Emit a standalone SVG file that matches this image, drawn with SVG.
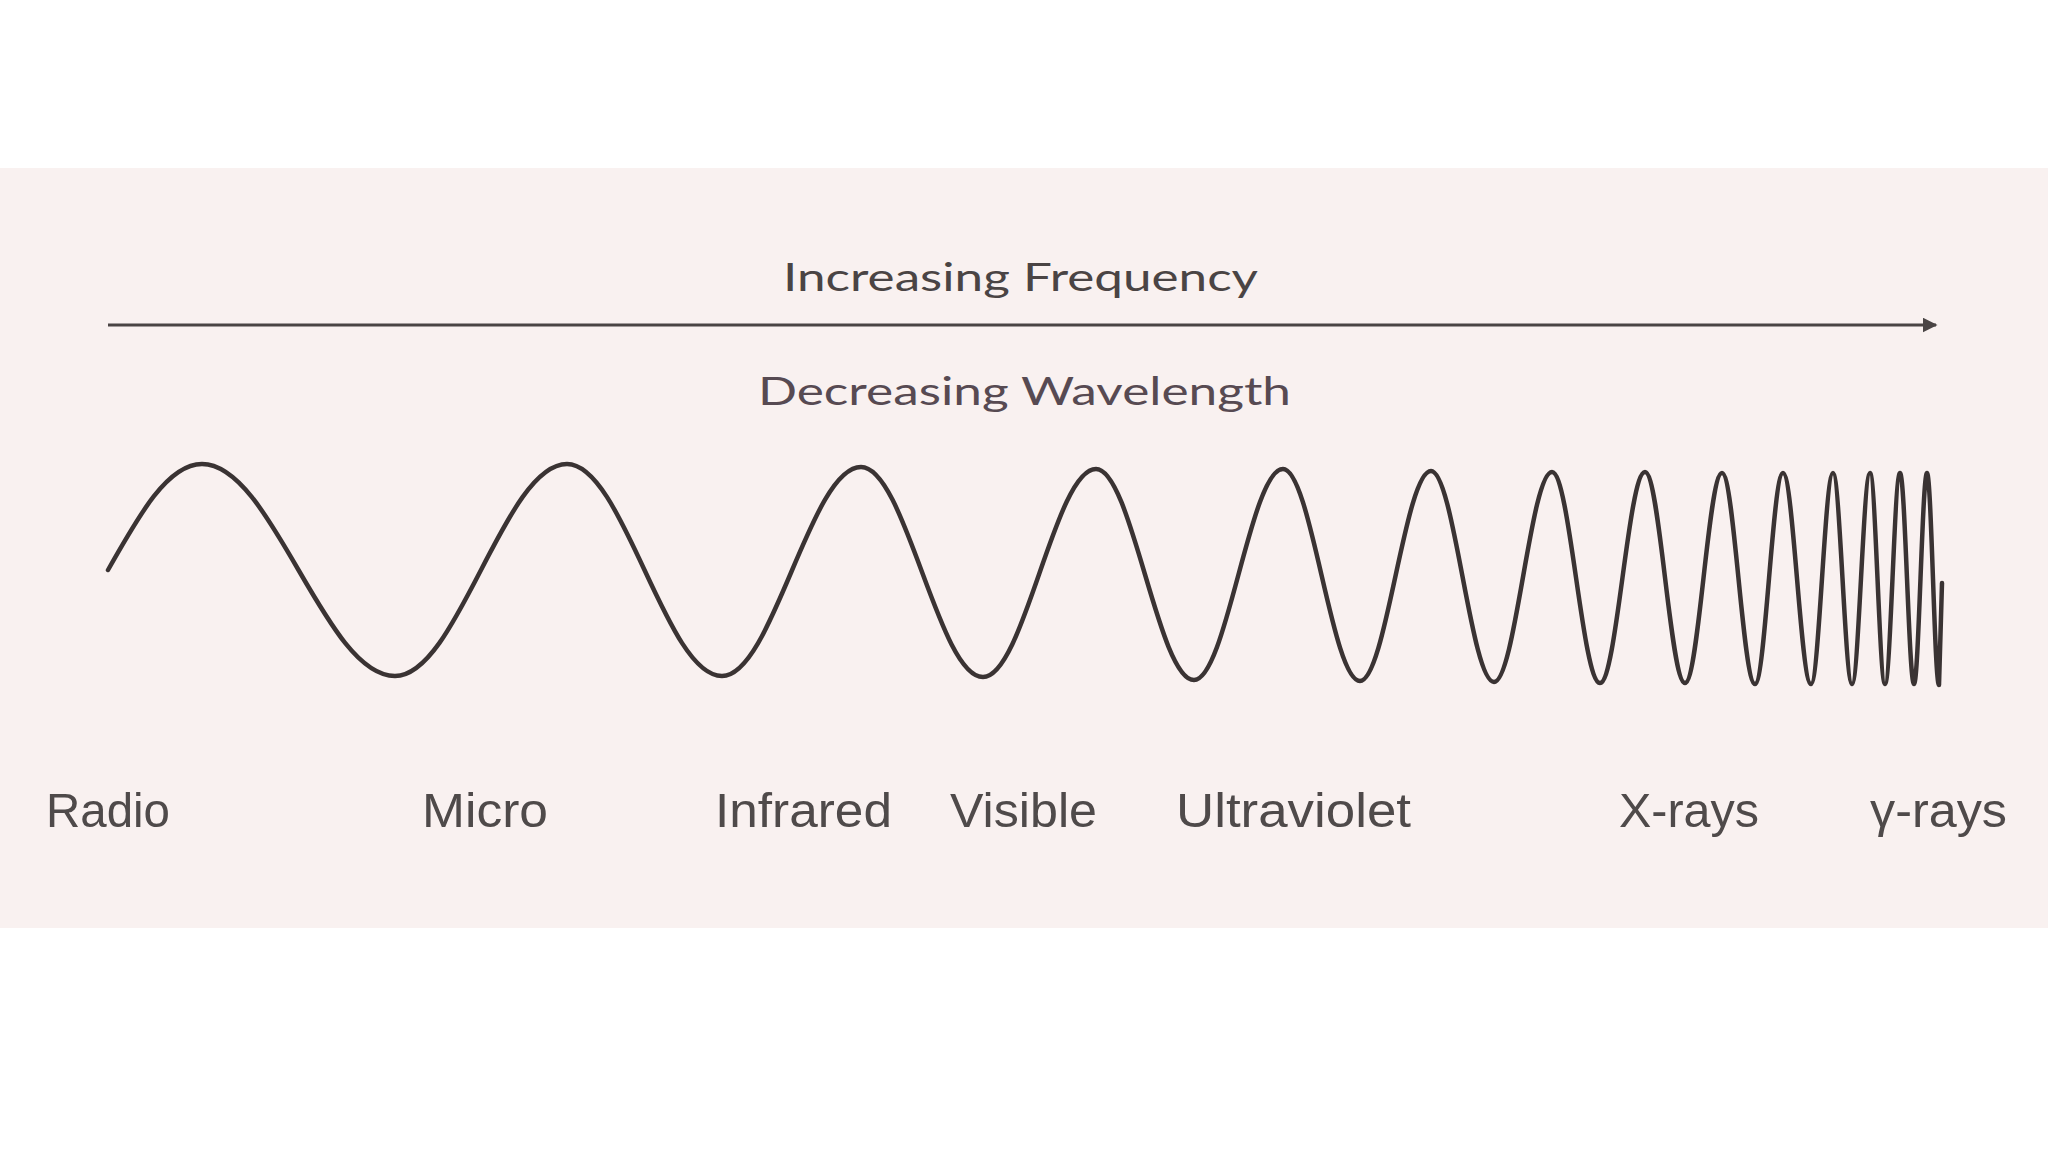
<svg xmlns="http://www.w3.org/2000/svg" width="2048" height="1152" viewBox="0 0 2048 1152">
<style>
.hdr{font-family:Lato,"Liberation Sans",sans-serif;font-size:38px;fill:#4a4444}
.lbl{font-family:"Liberation Sans",Arial,sans-serif;font-size:49px;fill:#4f4a4a}
.wave{fill:none;stroke:#3a3333;stroke-width:4.5;stroke-linejoin:round;stroke-linecap:round}
.axis{stroke:#4a4444;stroke-width:3}
</style>
<defs>
<marker id="ah" viewBox="0 0 10 10" refX="9" refY="5" markerWidth="5" markerHeight="5" orient="auto" markerUnits="strokeWidth">
<path d="M0,0 L10,5 L0,10 Z" fill="#4a4444"/>
</marker>
</defs>
<rect x="0" y="0" width="2048" height="1152" fill="#ffffff"/>
<rect x="0" y="168" width="2048" height="760" fill="#f9f1f0"/>
<g id="connectors">
<line class="axis" x1="108" y1="325" x2="1936" y2="325" marker-end="url(#ah)"/>
</g>
<g id="header-frequency"><text class="hdr" x="783" y="291" textLength="475" lengthAdjust="spacingAndGlyphs">Increasing Frequency</text></g>
<g id="header-wavelength"><text class="hdr" x="758" y="405" textLength="533" lengthAdjust="spacingAndGlyphs" style="fill:#574a52;font-size:39px">Decreasing Wavelength</text></g>
<g id="wave">
<path class="wave" d="M108,570 C139.3,514.5 167.8,464 202,464 C272.3,464 324.7,676 395,676 C457.6,676 504.4,464 567,464 C623.4,464 665.6,676 722,676 C772.6,676 810.4,467 861,467 C905.4,467 938.6,677 983,677 C1024.1,677 1054.9,469 1096,469 C1131.7,469 1158.3,680 1194,680 C1226.4,680 1250.6,469 1283,469 C1311,469 1332,681 1360,681 C1385.8,681 1405.2,471 1431,471 C1453.9,471 1471.1,682 1494,682 C1515.1,682 1530.9,472 1552,472 C1569.5,472 1582.5,683 1600,683 C1616.4,683 1628.6,472 1645,472 C1659.6,472 1670.4,683 1685,683 C1698.5,683 1708.5,473 1722,473 C1734,473 1743,684 1755,684 C1765.2,684 1772.8,473 1783,473 C1793.2,473 1800.8,684 1811,684 C1819,684 1825,473 1833,473 C1839.9,473 1845.1,684 1852,684 C1858.6,684 1863.4,473 1870,473 C1875.5,473 1879.5,684 1885,684 C1890.5,684 1894.5,473 1900,473 C1905.1,473 1908.9,684 1914,684 C1918.7,684 1922.3,473 1927,473 C1931.4,473 1934.6,685 1939,685 L1942,583"/>
</g>
<g id="label-radio"><text class="lbl" x="46" y="827" textLength="124" lengthAdjust="spacingAndGlyphs">Radio</text></g>
<g id="label-micro"><text class="lbl" x="422" y="827" textLength="126" lengthAdjust="spacingAndGlyphs">Micro</text></g>
<g id="label-infrared"><text class="lbl" x="715" y="827" textLength="177" lengthAdjust="spacingAndGlyphs">Infrared</text></g>
<g id="label-visible"><text class="lbl" x="950" y="827" textLength="147" lengthAdjust="spacingAndGlyphs">Visible</text></g>
<g id="label-ultraviolet"><text class="lbl" x="1176" y="827" textLength="235" lengthAdjust="spacingAndGlyphs">Ultraviolet</text></g>
<g id="label-xrays"><text class="lbl" x="1619" y="827" textLength="140" lengthAdjust="spacingAndGlyphs">X-rays</text></g>
<g id="label-gammarays"><text class="lbl" x="1870" y="827" textLength="137" lengthAdjust="spacingAndGlyphs">γ-rays</text></g>
</svg>
